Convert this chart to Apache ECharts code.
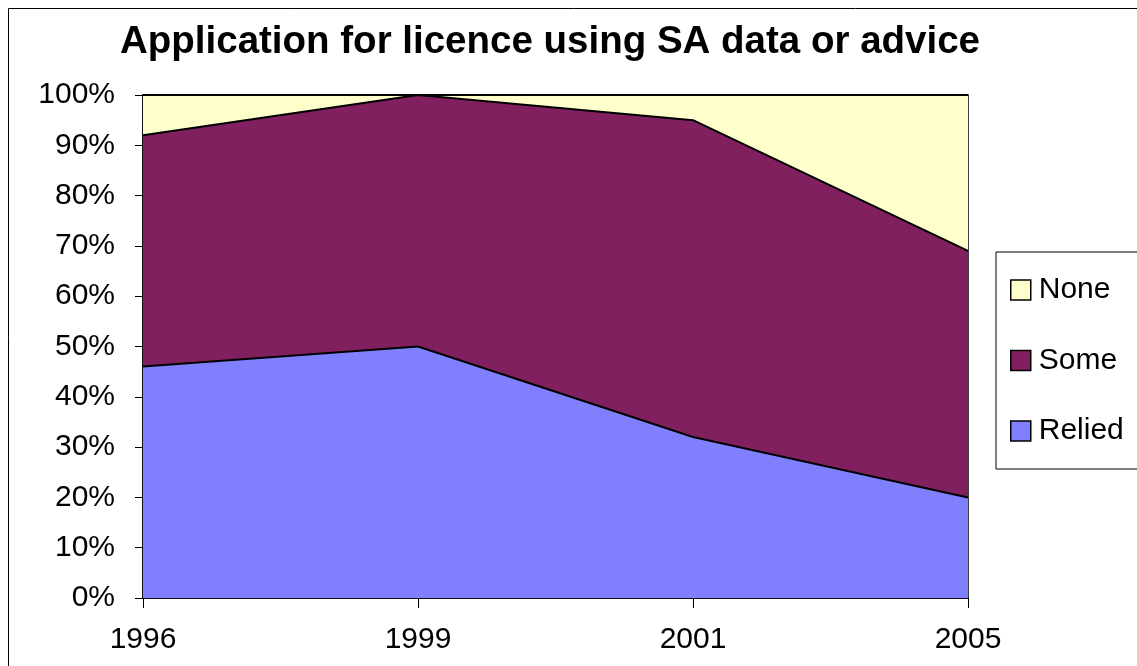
<!DOCTYPE html>
<html>
<head>
<meta charset="utf-8">
<script src="https://cdn.jsdelivr.net/npm/echarts@6/dist/echarts.min.js"></script>
<style>
  html, body { margin: 0; padding: 0; background: #fff; }
  #chart { width: 1137px; height: 666px; }
</style>
</head>
<body>
<div id="chart"></div>
<script>
const years = ["1996", "1999", "2001", "2005"];
const relied = [46, 50, 32, 20];
const some = [46, 50, 63, 49];
const none = [8, 0, 5, 31];

const chart = echarts.init(document.getElementById("chart"));
const font = "'Liberation Sans', Arial, sans-serif";

const areaSeries = (name, data, color) => ({
  name: name,
  type: "line",
  stack: "total",
  data: data,
  showSymbol: false,
  symbol: "none",
  lineStyle: { color: "#000", width: 2 },
  itemStyle: { color: color, borderColor: "#000", borderWidth: 1 },
  areaStyle: { color: color, opacity: 1 },
  emphasis: { disabled: true }
});

chart.setOption({
  animation: false,
  textStyle: { fontFamily: font },
  title: {
    text: "Application for licence using SA data or advice",
    left: 545,
    textAlign: "center",
    top: 18,
    textStyle: { fontFamily: font, fontSize: 38.5, fontWeight: "bold", color: "#000" }
  },
  graphic: [{
    type: "rect",
    shape: { x: 8.5, y: 8.5, width: 1140, height: 670 },
    style: { fill: "none", stroke: "#000", lineWidth: 1 },
    silent: true
  }],
  legend: {
    orient: "vertical",
    left: 996,
    top: 252,
    data: ["None", "Some", "Relied"],
    padding: [21, 40, 21, 14],
    itemGap: 36.5,
    itemWidth: 20,
    itemHeight: 20,
    icon: "rect",
    borderColor: "#000",
    borderWidth: 1,
    selectedMode: false,
    textStyle: { fontFamily: font, fontSize: 30, color: "#000", lineHeight: 34, padding: [0, 0, 0, 3] },
    itemStyle: { borderColor: "#000", borderWidth: 1.5 }
  },
  grid: {
    left: 143,
    right: 169,
    top: 95,
    bottom: 68,
    show: true,
    borderColor: "#000",
    borderWidth: 1.5,
    backgroundColor: "transparent"
  },
  xAxis: {
    type: "category",
    data: years,
    boundaryGap: false,
    axisLine: { lineStyle: { color: "#000", width: 1.5 } },
    axisTick: { show: true, length: 10, alignWithLabel: true, lineStyle: { color: "#000" } },
    axisLabel: { fontFamily: font, fontSize: 30, color: "#000", margin: 27 },
    splitLine: { show: false }
  },
  yAxis: {
    type: "value",
    min: 0,
    max: 100,
    interval: 10,
    axisLine: { show: true, lineStyle: { color: "#000", width: 1.5 } },
    axisTick: { show: true, length: 8, lineStyle: { color: "#000" } },
    axisLabel: { fontFamily: font, fontSize: 30, color: "#000", margin: 28, formatter: "{value}%" },
    splitLine: { show: false }
  },
  series: [
    areaSeries("Relied", relied, "#8080FF"),
    areaSeries("Some", some, "#80205F"),
    areaSeries("None", none, "#FFFFCC")
  ]
});
</script>
</body>
</html>
